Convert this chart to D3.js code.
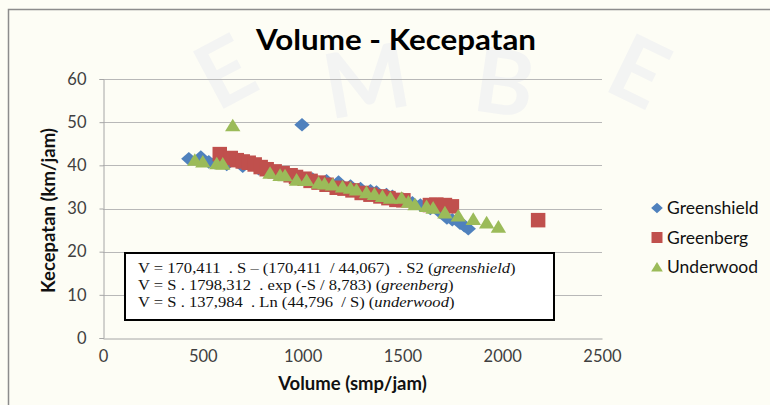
<!DOCTYPE html>
<html>
<head>
<meta charset="utf-8">
<script src="https://cdn.jsdelivr.net/npm/d3@7"></script>
<style>
  body { margin: 0; background: #fdfdf5; }
  svg { display: block; }
  .tick text { font-family: Lato, "Open Sans", sans-serif; font-size: 16.5px; fill: #404040; }
</style>
</head>
<body>
<svg id="chart" width="770" height="405"></svg>
<script>
// Volume (smp/jam) and Kecepatan (km/jam)
const greenshieldVolume = [430, 490, 530, 560, 620, 700, 780, 850, 920, 980, 997, 1050, 1120, 1180, 1240, 1290, 1340, 1370, 1420, 1450, 1500, 1550, 1590, 1640, 1690, 1723, 1750, 1789, 1810, 1830];
const greenshieldSpeed  = [41.5, 41.9, 40.8, 40.6, 40.2, 39.8, 39.2, 38.6, 38.0, 37.4, 49.4, 36.8, 36.4, 36.1, 35.2, 34.6, 34.1, 33.8, 33.2, 32.8, 32.1, 31.3, 30.8, 30.0, 29.1, 27.8, 27.4, 26.6, 26.0, 25.3];

const greenbergVolume = [585, 640, 670, 700, 730, 760, 790, 820, 860, 900, 940, 967, 1010, 1040, 1080, 1120, 1171, 1210, 1250, 1296, 1340, 1390, 1430, 1470, 1505, 1638, 1670, 1713, 1748, 2180];
const greenbergSpeed  = [42.6, 41.7, 41.2, 40.9, 40.6, 40.2, 39.6, 39.1, 38.6, 38.2, 37.7, 37.3, 36.9, 36.4, 36.0, 35.5, 34.8, 34.6, 34.2, 33.6, 33.2, 32.8, 32.4, 32.0, 31.9, 30.8, 30.9, 30.8, 30.5, 27.3];

const underwoodVolume = [460, 500, 570, 600, 650, 837, 887, 912, 970, 1020, 1080, 1110, 1150, 1200, 1240, 1270, 1320, 1360, 1400, 1440, 1496, 1530, 1563, 1621, 1654, 1713, 1780, 1855, 1922, 1981];
const underwoodSpeed  = [41.3, 40.9, 40.5, 40.4, 49.3, 38.3, 37.8, 37.7, 36.7, 36.6, 36.0, 35.8, 35.6, 35.1, 34.8, 34.4, 33.8, 33.4, 32.9, 32.5, 32.5, 31.6, 31.0, 30.6, 30.2, 29.1, 28.4, 27.6, 26.8, 25.8];

const seriesNames  = ["Greenshield", "Greenberg", "Underwood"];
const seriesColors = ["#4f81bd", "#c0504d", "#9bbb59"];
const xTicks = [0, 500, 1000, 1500, 2000, 2500];
const yTicks = [0, 10, 20, 30, 40, 50, 60];
const equations = [
  ["V = 170,411  . S – (170,411  / 44,067)  . S2 ", "greenshield"],
  ["V = S . 1798,312  . exp (-S / 8,783) ", "greenberg"],
  ["V = S . 137,984  . Ln (44,796  / S) ", "underwood"]
];

const series = [
  { name: seriesNames[0], color: seriesColors[0], shape: "diamond", pts: d3.zip(greenshieldVolume, greenshieldSpeed) },
  { name: seriesNames[1], color: seriesColors[1], shape: "square",  pts: d3.zip(greenbergVolume, greenbergSpeed) },
  { name: seriesNames[2], color: seriesColors[2], shape: "triangle", pts: d3.zip(underwoodVolume, underwoodSpeed) }
];

const svg = d3.select("#chart");

// very faint watermark behind the chart
const wm = svg.append("g").attr("fill", "#f3f4f3").attr("font-family", "Lato, sans-serif")
  .attr("font-weight", "bold").attr("font-size", 90);
[["E", 240, 100, -28], ["M", 372, 112, -10], ["B", 500, 114, 8], ["E", 625, 100, 26]].forEach(([t, x, y, r]) => {
  wm.append("text").attr("transform", `translate(${x},${y}) rotate(${r})`).attr("text-anchor", "middle").text(t);
});

// chart frame
svg.append("path").attr("d", "M8.5,405 V9.5 H770").attr("fill", "none").attr("stroke", "#8c8c8c").attr("stroke-width", 1.5);

const margin = { left: 103, right: 168, top: 79, bottom: 67 };
const width = 770 - margin.left - margin.right;
const height = 405 - margin.top - margin.bottom;

const x = d3.scaleLinear().domain([0, 2500]).range([margin.left, margin.left + width]);
const y = d3.scaleLinear().domain([0, 60]).range([margin.top + height, margin.top]);

// gridlines
svg.append("g")
  .selectAll("line")
  .data(yTicks.filter(d => d > 0))
  .enter().append("line")
  .attr("x1", x(0)).attr("x2", x(2500))
  .attr("y1", d => Math.round(y(d)) + 0.5).attr("y2", d => Math.round(y(d)) + 0.5)
  .attr("stroke", "#b8b8b8").attr("stroke-width", 1);

// axes
const xAxis = svg.append("g")
  .attr("transform", `translate(0,${Math.round(y(0)) + 0.5})`)
  .call(d3.axisBottom(x).tickValues(xTicks).tickSize(0).tickPadding(12).tickFormat(d3.format("d")));
xAxis.select(".domain").attr("stroke", "#a6a6a6");

const yAxis = svg.append("g")
  .attr("transform", `translate(${Math.round(x(0)) + 0.5},0)`)
  .call(d3.axisLeft(y).tickValues(yTicks).tickSize(4).tickPadding(13));
yAxis.select(".domain").attr("stroke", "#a6a6a6");
yAxis.selectAll(".tick line").attr("stroke", "#a6a6a6");

// axis titles
svg.append("text")
  .attr("x", x(1250)).attr("y", 390)
  .attr("text-anchor", "middle")
  .attr("font-family", "Lato, sans-serif").attr("font-weight", "bold").attr("font-size", 18.5)
  .attr("fill", "#111")
  .text("Volume (smp/jam)");

svg.append("text")
  .attr("transform", `translate(55,${y(30) + 2}) rotate(-90)`)
  .attr("text-anchor", "middle")
  .attr("font-family", "Lato, sans-serif").attr("font-weight", "bold").attr("font-size", 18.5)
  .attr("fill", "#111")
  .text("Kecepatan (km/jam)");

// title
svg.append("text")
  .attr("transform", "translate(396,50) scale(1.12,1)")
  .attr("text-anchor", "middle")
  .attr("font-family", "Lato, sans-serif").attr("font-weight", "bold").attr("font-size", 28)
  .attr("fill", "#000")
  .text("Volume - Kecepatan");

// marker shapes
const shapePath = {
  diamond: (s) => `M0,${-s * 0.47}L${s * 0.53},0L0,${s * 0.47}L${-s * 0.53},0Z`,
  square: (s) => `M${-s / 2},${-s / 2}h${s}v${s}h${-s}Z`,
  triangle: (s) => `M0,${-s * 0.45}L${s * 0.53},${s * 0.42}L${-s * 0.53},${s * 0.42}Z`
};

series.forEach(sr => {
  svg.append("g")
    .selectAll("path")
    .data(sr.pts)
    .enter().append("path")
    .attr("transform", d => `translate(${x(d[0])},${y(d[1])})`)
    .attr("d", shapePath[sr.shape](14.5))
    .attr("fill", sr.color);
});

// equation box
const box = svg.append("g").attr("transform", "translate(125,253)");
box.append("rect")
  .attr("width", 429).attr("height", 67)
  .attr("fill", "#fff").attr("stroke", "#000").attr("stroke-width", 2);
const eq = box.append("text")
  .attr("transform", "translate(13,0) scale(1.12,1)")
  .attr("font-family", "'Liberation Serif', 'Times New Roman', serif").attr("font-size", 14.8)
  .attr("fill", "#111").attr("xml:space", "preserve").style("white-space", "pre");
equations.forEach((e, i) => {
  const line = eq.append("tspan").attr("x", 0).attr("y", 20.5 + i * 17);
  line.append("tspan").text(e[0]);
  line.append("tspan").text("(");
  line.append("tspan").attr("font-style", "italic").text(e[1]);
  line.append("tspan").text(")");
});

// legend
const legend = svg.append("g").attr("transform", "translate(657,208)")
  .selectAll("g")
  .data(series)
  .enter().append("g")
  .attr("transform", (d, i) => `translate(0,${i * 29.5})`);

legend.append("path")
  .attr("d", d => shapePath[d.shape](11))
  .attr("fill", d => d.color);

legend.append("text")
  .attr("x", 10).attr("y", 6)
  .attr("font-family", "Lato, sans-serif").attr("font-size", 17.5)
  .attr("fill", "#111")
  .text(d => d.name);
</script>
</body>
</html>
